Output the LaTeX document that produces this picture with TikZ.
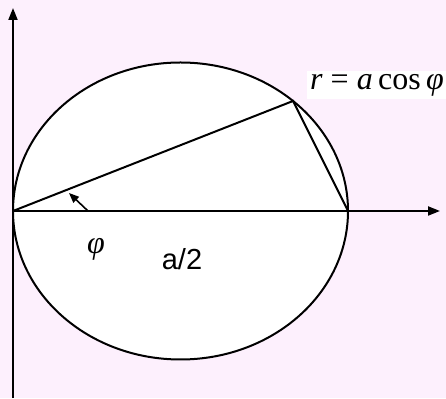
\documentclass[tikz,border=0pt]{standalone}
\usepackage{fontspec}
\setmainfont{Liberation Serif}
\newfontfamily\arialfont{Liberation Sans}
\usepackage{tikz}
\usetikzlibrary{arrows.meta, positioning}
\definecolor{pagebg}{RGB}{253, 240, 253}
\definecolor{inkblack}{RGB}{0, 0, 0}

\begin{document}
\begin{tikzpicture}[
      x=1pt, y=1pt,
      axis/.style={-{Triangle[length=12pt, width=9pt]}, line width=2pt, color=inkblack},
      curve/.style={line width=2pt, color=inkblack},
      anglearr/.style={-{Triangle[length=10pt, width=8pt]}, line width=1.6pt, color=inkblack},
      formula/.style={fill=white, inner sep=3pt, font=\fontsize{32}{36}\selectfont},
      lbl/.style={inner sep=0pt, font=\fontsize{32}{36}\selectfont},
      sanslbl/.style={inner sep=0pt, font=\arialfont\fontsize{29}{34}\selectfont}
  ]
    \fill[pagebg] (0,0) rectangle (446,398);
    \useasboundingbox (0,0) rectangle (446,398);

    % circle r = a cos phi
    \draw[curve, fill=white] (180.5,187) ellipse [x radius=167.5, y radius=148.5];

    \coordinate (o)   at (13,187);
    \coordinate (a)   at (348,187);
    \coordinate (p)   at (293,297);
    \coordinate (xend) at (440,187);
    \coordinate (ybot) at (13,0);
    \coordinate (yend) at (13,390);

    % axes
    \draw[axis] (o) -- (xend);
    \draw[axis] (ybot) -- (yend);

    % chords
    \draw[curve] (o) -- (p) -- (a);

    % angle
    \coordinate (arrfrom) at (88,187);
    \coordinate (arrto)   at (69,205);
    \draw[anglearr] (arrfrom) -- (arrto);

    \node[lbl] (phi)  at (96,149) {\textit{φ}};
    \node[sanslbl] (half) at (182,139) {a/2};
    \node[formula, anchor=east] (eq) at (447,313) {\textit{r} = \textit{a}\,cos\,\textit{φ}};
  \end{tikzpicture}
\end{document}
